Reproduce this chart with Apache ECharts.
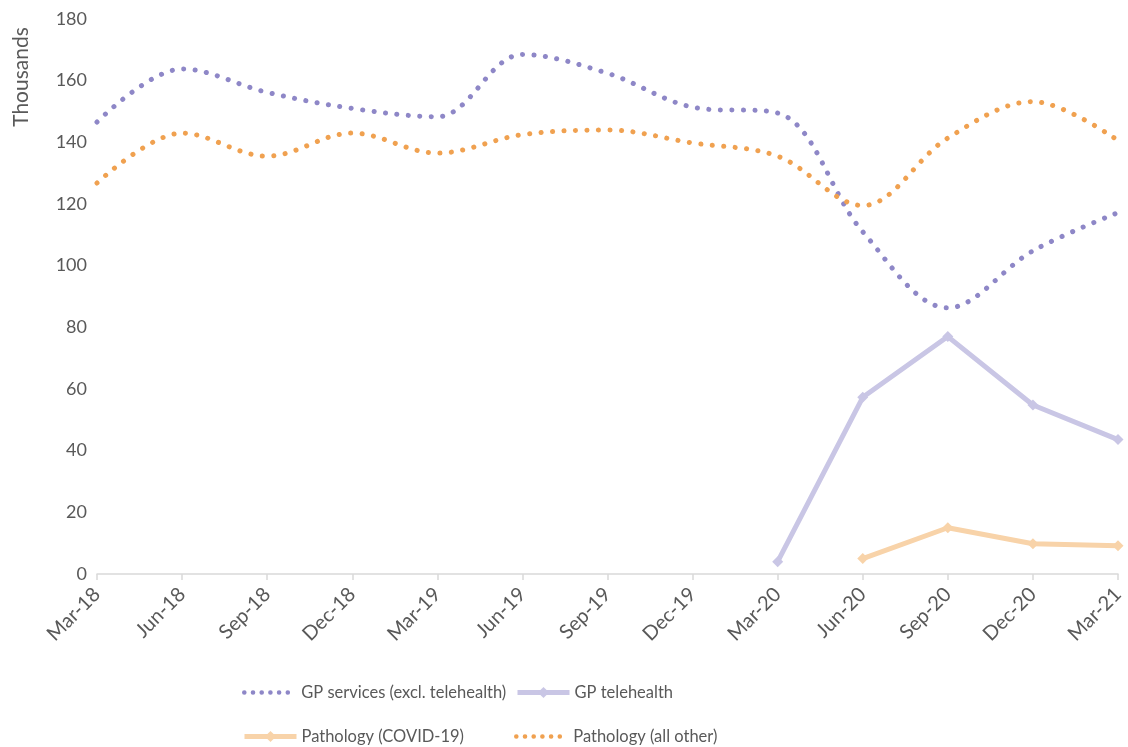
<!DOCTYPE html>
<html>
<head>
<meta charset="utf-8">
<script src="https://cdn.jsdelivr.net/npm/echarts@6/dist/echarts.min.js"></script>
<style>
  html, body { margin: 0; padding: 0; background: #fff; }
  #chart { width: 1128px; height: 747px; }
</style>
</head>
<body>
<div id="chart"></div>
<script>
// Quarterly service counts, in thousands
const quarters = ['Mar-18', 'Jun-18', 'Sep-18', 'Dec-18', 'Mar-19', 'Jun-19', 'Sep-19',
  'Dec-19', 'Mar-20', 'Jun-20', 'Sep-20', 'Dec-20', 'Mar-21'];
const gpServices = [146.6, 163.8, 156.2, 151, 148.3, 168.5, 162.4, 151.4, 149.5, 111, 86.3, 104.8, 117.2];
const gpTelehealth = [null, null, null, null, null, null, null, null, 4, 57.3, 77, 54.8, 43.6];
const pathologyCovid = [null, null, null, null, null, null, null, null, null, 5, 15, 9.8, 9.2];
const pathologyOther = [126.8, 143, 135.5, 143, 136.5, 142.5, 144, 139.8, 135.5, 119.5, 141.4, 153.2, 140.6];
const yTicks = { min: 0, max: 180, step: 20 };
const yTitle = 'Thousands';

const FONT = 'Lato, "Open Sans", sans-serif';
const TEXT = '#595959';
const purpleDot = '#8e87c7';
const orangeDot = '#f0a150';
const lavender = '#c9c6e5';
const peach = '#f8d3a9';

const chart = echarts.init(document.getElementById('chart'));

function legendAt(name, left, top, dotted) {
  const item = {
    data: [name], left: left, top: top, itemWidth: 52, itemHeight: 14, itemGap: 6,
    textStyle: { color: TEXT, fontSize: 16.5, fontFamily: FONT }
  };
  if (dotted) {
    // dotted series: line only, no marker in the key
    item.itemStyle = { opacity: 0 };
    item.lineStyle = { width: 4.5, type: [0.1, 8.6], cap: 'round' };
  } else {
    item.lineStyle = { width: 5 };
  }
  return item;
}

chart.setOption({
  animation: false,
  backgroundColor: '#fff',
  grid: { left: 97, right: 10, top: 19, bottom: 173, containLabel: false },
  legend: [
    legendAt('GP services (excl. telehealth)', 237, 679, true),
    legendAt('GP telehealth', 510, 679, false),
    legendAt('Pathology (COVID-19)', 237, 723, false),
    legendAt('Pathology (all other)', 509, 723, true)
  ],
  graphic: [{
    type: 'text',
    x: 21, y: 77, rotation: Math.PI / 2,
    style: {
      text: yTitle, fill: TEXT, fontSize: 21, fontFamily: FONT,
      align: 'center', verticalAlign: 'middle'
    }
  }],
  xAxis: {
    type: 'category',
    data: quarters,
    boundaryGap: false,
    axisLine: { lineStyle: { color: '#d9d9d9', width: 1.5 } },
    axisTick: { show: true, length: 6, lineStyle: { color: '#d9d9d9', width: 1.5 } },
    axisLabel: { rotate: 45, color: TEXT, fontSize: 20, fontFamily: FONT, margin: 17, interval: 0 },
    splitLine: { show: false }
  },
  yAxis: {
    type: 'value',
    min: yTicks.min, max: yTicks.max, interval: yTicks.step,
    axisLine: { show: false },
    axisTick: { show: false },
    splitLine: { show: false },
    axisLabel: { color: TEXT, fontSize: 18, fontFamily: FONT, margin: 10 }
  },
  series: [
    {
      name: 'GP services (excl. telehealth)', type: 'line', data: gpServices,
      smooth: 0.35, symbol: 'none',
      lineStyle: { color: purpleDot, width: 5, type: [0.1, 11.4], cap: 'round' },
      itemStyle: { color: purpleDot }
    },
    {
      name: 'GP telehealth', type: 'line', data: gpTelehealth,
      symbol: 'diamond', symbolSize: 11, showSymbol: true,
      lineStyle: { color: lavender, width: 5 },
      itemStyle: { color: lavender }
    },
    {
      name: 'Pathology (COVID-19)', type: 'line', data: pathologyCovid,
      symbol: 'diamond', symbolSize: 11,
      lineStyle: { color: peach, width: 5 },
      itemStyle: { color: peach }
    },
    {
      name: 'Pathology (all other)', type: 'line', data: pathologyOther,
      smooth: 0.35, symbol: 'none',
      lineStyle: { color: orangeDot, width: 5, type: [0.1, 11.4], cap: 'round' },
      itemStyle: { color: orangeDot }
    }
  ]
});
</script>
</body>
</html>
